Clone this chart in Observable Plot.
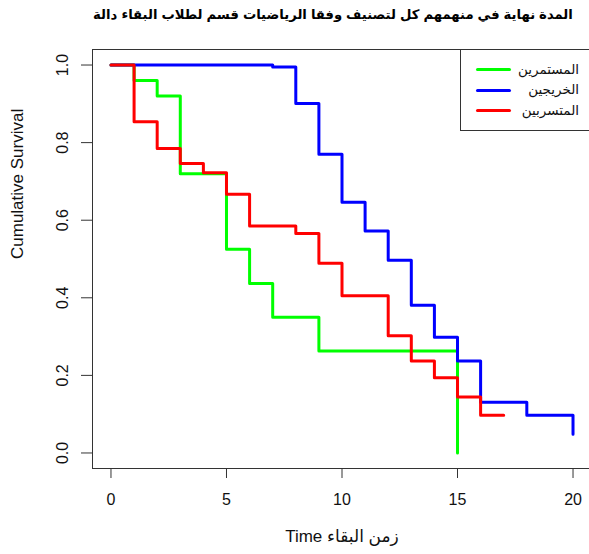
<!DOCTYPE html>
<html><head><meta charset="utf-8">
<script src="https://cdn.jsdelivr.net/npm/d3@7"></script>
<script src="https://cdn.jsdelivr.net/npm/@observablehq/plot@0.6"></script>
<style>
html,body{margin:0;padding:0;overflow:hidden;background:#fff;width:589px;height:554px}
#wrap{position:relative;width:589px;height:554px;overflow:hidden;font-family:"Liberation Sans","DejaVu Sans",Arial,sans-serif;background:#fff}
#wrap svg{max-width:none !important;position:absolute;left:0;top:0}
.tw{position:absolute;top:7px;font-weight:bold;white-space:nowrap;color:#000;direction:rtl;unicode-bidi:isolate}
#legend{position:absolute;left:460px;top:49px;width:129px;height:82px;border:1px solid #333;border-right:none;box-sizing:border-box;background:#fff}
.sw{position:absolute;left:15px;width:35px;height:3px;border-radius:1.5px}
.lab{position:absolute;right:10px;height:22px;line-height:22px;font-size:13.5px;color:#111;white-space:nowrap;text-align:right;direction:rtl;unicode-bidi:isolate}
</style>
</head><body>
<div id="wrap"></div>
<script>
// ---- data ----
const titleWords = ["دالة","البقاء","لطلاب","قسم","الرياضيات","وفقا","لتصنيف","كل","منهمهم","في","نهاية","المدة"];
const xLabel = "Time زمن البقاء";
const yLabel = "Cumulative Survival";
const groups = ["المستمرين","الخريجين","المتسربين"];
const colors = ["#00ff00","#0000ff","#ff0000"];
const xTicks = [0,5,10,15,20];
const yTicks = [0,0.2,0.4,0.6,0.8,1.0];

const timesGreen = [0,1,2,3,5,6,7,9,15];
const survGreen  = [1,0.96,0.92,0.72,0.525,0.437,0.35,0.263,0];
const timesBlue  = [0,7,8,9,10,11,12,13,14,15,16,18,20];
const survBlue   = [1,0.995,0.901,0.77,0.646,0.572,0.497,0.381,0.298,0.237,0.131,0.097,0.048];
const timesRed   = [0,1,2,3,4,5,6,8,9,10,12,13,14,15,16,17];
const survRed    = [1,0.854,0.785,0.746,0.722,0.667,0.585,0.566,0.489,0.405,0.302,0.237,0.194,0.144,0.097,0.097];

// ---- build ----
const series = [[timesGreen, survGreen],[timesBlue, survBlue],[timesRed, survRed]];
const rows = [];
series.forEach(([t, s], i) => t.forEach((tt, j) => rows.push({time: tt, surv: s[j], group: groups[i]})));

const font = '"Liberation Sans","DejaVu Sans",Arial,sans-serif';
const chart = Plot.plot({
  width: 591, height: 554,
  marginLeft: 92, marginRight: 0, marginTop: 49, marginBottom: 86,
  style: {fontFamily: font, fontSize: "16px", color: "#000", background: "transparent", overflow: "visible"},
  x: {domain: [-0.8, 20.8]},
  y: {domain: [-0.04, 1.04]},
  color: {domain: groups, range: colors},
  marks: [
    Plot.frame({stroke: "#333"}),
    Plot.axisX({ticks: xTicks, tickSize: 10, tickPadding: 15, label: null, stroke: "#333", fill: "#111"}),
    Plot.axisY({ticks: yTicks, tickSize: 11, tickPadding: 14, tickRotate: -90, tickFormat: d3.format(".1f"), label: null, stroke: "#333", fill: "#111"}),
    Plot.line(rows, {x: "time", y: "surv", z: "group", stroke: "group", strokeWidth: 3, curve: "step-after"}),
    Plot.text([yLabel], {frameAnchor: "left", text: d => d, rotate: -90, dx: -75, fontSize: 17, fill: "#111"}),
    Plot.text([xLabel], {frameAnchor: "bottom", text: d => d, dy: 73, fontSize: 17, fill: "#111"})
  ]
});
const wrap = document.getElementById("wrap");
wrap.appendChild(chart);

// title: each word placed explicitly, left to right as in the reference
const spans = titleWords.map(w => {
  const sp = document.createElement("span");
  sp.className = "tw";
  sp.textContent = w;
  sp.style.fontSize = "16px";
  wrap.appendChild(sp);
  return sp;
});
function layoutTitle(fs) {
  spans.forEach(sp => sp.style.fontSize = fs + "px");
  const widths = spans.map(sp => sp.getBoundingClientRect().width);
  const gap = 0.3 * fs;
  const total = widths.reduce((a, b) => a + b, 0) + gap * (spans.length - 1);
  return {widths, gap, total};
}
let L = layoutTitle(16);
const fs = 16 * 480 / L.total;
L = layoutTitle(fs);
let xpos = 333 - L.total / 2;
spans.forEach((sp, i) => { sp.style.left = xpos.toFixed(1) + "px"; xpos += L.widths[i] + L.gap; });

// legend
const leg = document.createElement("div");
leg.id = "legend";
groups.forEach((g, i) => {
  const sw = document.createElement("div");
  sw.className = "sw";
  sw.style.top = (17.8 + 20.7 * i) + "px";
  sw.style.background = colors[i];
  leg.appendChild(sw);
  const lb = document.createElement("div");
  lb.className = "lab";
  lb.style.top = (8.5 + 20.7 * i) + "px";
  lb.textContent = g;
  leg.appendChild(lb);
});
wrap.appendChild(leg);
</script>
</body></html>
